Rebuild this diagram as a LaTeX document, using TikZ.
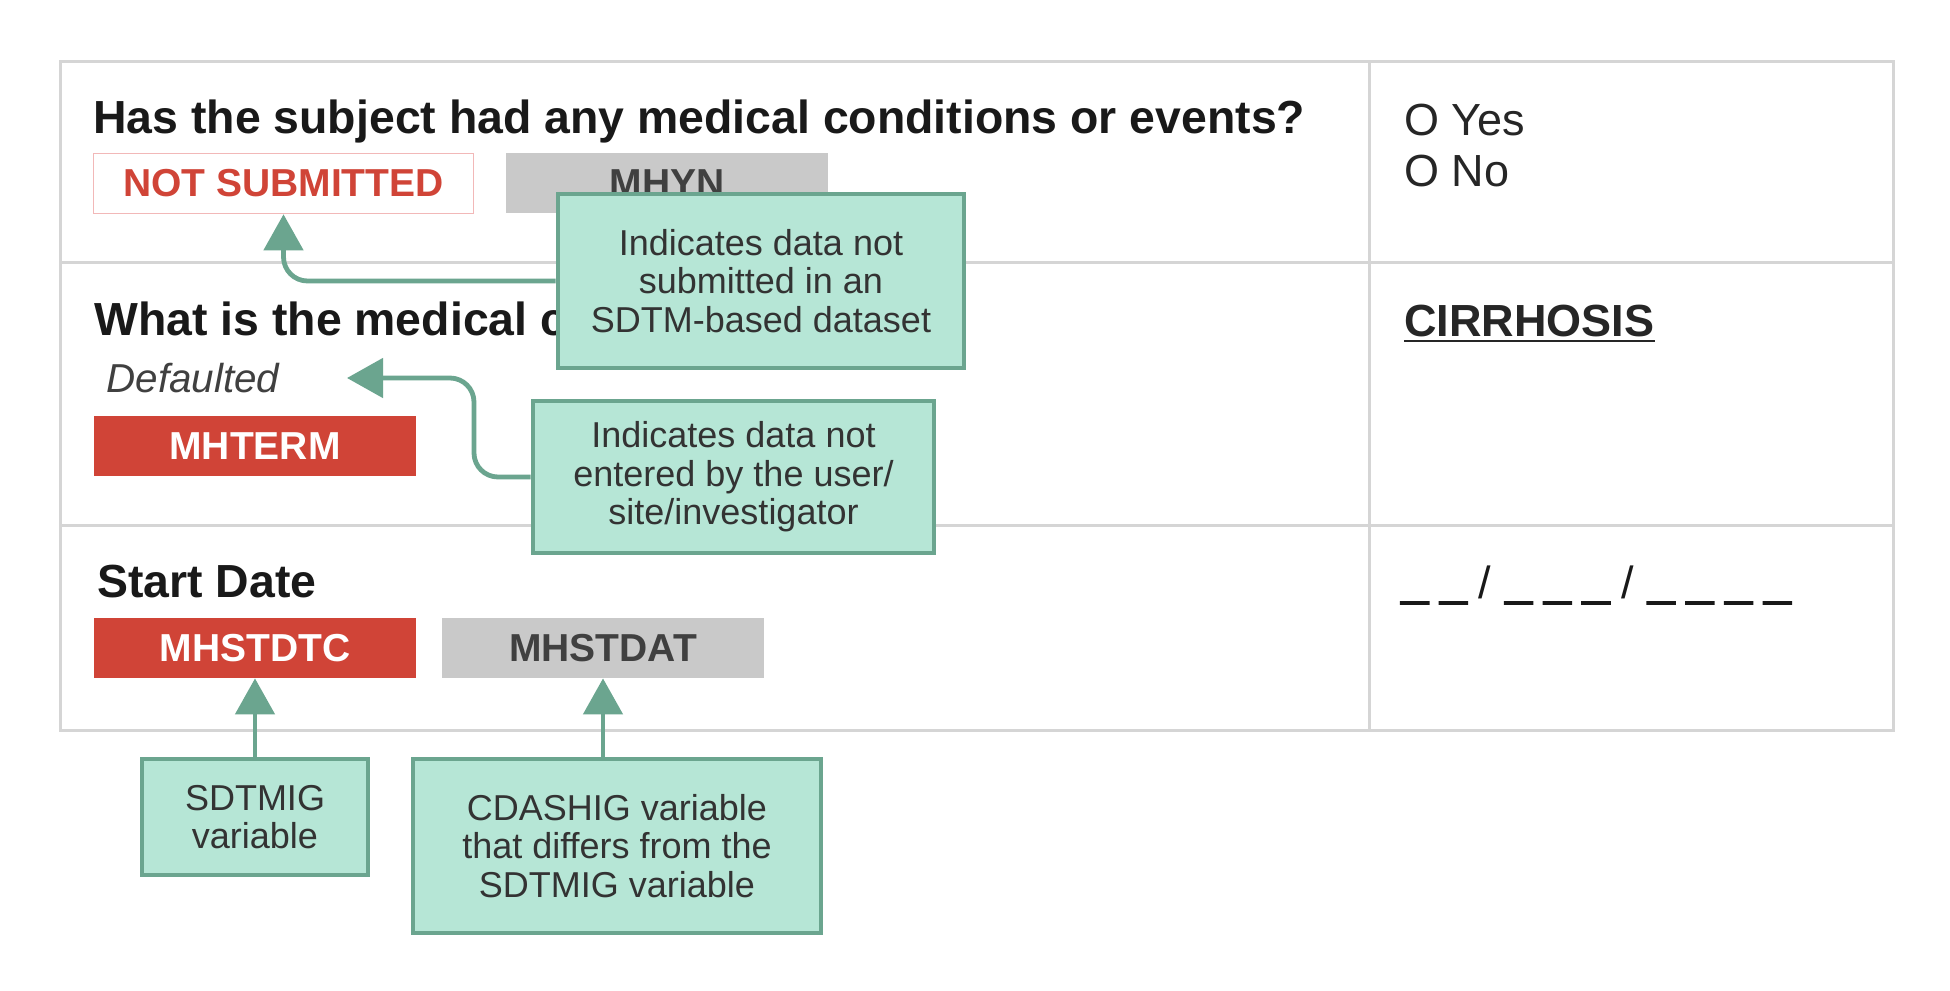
\documentclass[tikz,border=0pt]{standalone}
\usepackage{fontspec}
\setmainfont{Liberation Sans}
\newfontface\dashfont{Liberation Sans Bold}[FakeBold=4]
\usetikzlibrary{arrows.meta}
\definecolor{gridgray}{HTML}{D5D5D5}
\definecolor{sdtmred}{HTML}{D04437}
\definecolor{cdashgray}{HTML}{C9C9C9}
\definecolor{notsubpink}{HTML}{F2B8B8}
\definecolor{calloutfill}{HTML}{B6E6D6}
\definecolor{calloutline}{HTML}{6BA58F}
\newcommand{\blank}{{\dashfont\fontsize{24}{26}\selectfont\_}}

\begin{document}
\begin{tikzpicture}[x=0.5pt, y=-0.5pt,
  grid/.style={draw=gridgray, line width=1.5pt},
  question/.style={anchor=base west, inner sep=0pt, font=\bfseries\fontsize{23.2}{26}\selectfont, text=black!90},
  answer/.style={anchor=base west, inner sep=0pt, font=\fontsize{22.5}{26}\selectfont, text=black!85},
  tag/.style={minimum width=161pt, minimum height=30pt, inner sep=0pt, font=\bfseries\fontsize{19.5}{22}\selectfont},
  sdtmtag/.style={tag, fill=sdtmred, text=white},
  cdashtag/.style={tag, fill=cdashgray, text=black!75},
  notsubtag/.style={tag, minimum width=190pt, draw=notsubpink, line width=0.8pt, fill=white, text=sdtmred},
  callout/.style={draw=calloutline, fill=calloutfill, line width=2.4pt, inner sep=0pt, align=center, font=\fontsize{18}{19.3}\selectfont, text=black!80},
  callarrow/.style={draw=calloutline, line width=2.4pt, rounded corners=12pt, -{Triangle[width=19.5pt,length=18pt]}}]
\fill[white] (0,0) rectangle (1950,991);

\draw[grid] (60,61) rectangle (1893,730);
\draw[grid] (1369,61) -- (1369,730);
\draw[grid] (60,262) -- (1893,262);
\draw[grid] (60,525) -- (1893,525);

\node[question] (q1) at (93,133) {Has the subject had any medical conditions or events?};
\node[question] (q2) at (94,335) {What is the medical c};
\node[question] (q3) at (97,597) {Start Date};
\node[anchor=base west, inner sep=0pt, font=\itshape\fontsize{20.2}{24}\selectfont, text=black!75] (dflt) at (106,392) {Defaulted};

\node[notsubtag] (notsub) at (283.5,183.5) {NOT SUBMITTED};
\node[cdashtag] (mhyn) at (667,183) {MHYN};
\node[sdtmtag] (mhterm) at (255,446) {MHTERM};
\node[sdtmtag] (mhstdtc) at (255,648) {MHSTDTC};
\node[cdashtag] (mhstdat) at (603,648) {MHSTDAT};

\node[answer] (yes) at (1404,135) {O Yes};
\node[answer] (no) at (1404,186) {O No};
\node[answer, font=\bfseries\fontsize{22.5}{26}\selectfont] (cirr) at (1404,336) {CIRRHOSIS};
\draw[line width=1.2pt, black!85] ([yshift=-2.6pt]cirr.base west) -- ([yshift=-2.6pt]cirr.base east);
\node[answer, text=black!90] (date) at (1401,598) {\blank\hspace{6pt}\blank\hspace{6pt}/\hspace{7pt}\blank\hspace{6pt}\blank\hspace{6pt}\blank\hspace{6pt}/\hspace{7pt}\blank\hspace{6pt}\blank\hspace{6pt}\blank\hspace{6pt}\blank};

\node[callout, minimum width=203pt, minimum height=87pt] (c1) at (761,281) {Indicates data not\\submitted in an\\SDTM-based dataset};
\node[callout, minimum width=200.5pt, minimum height=76pt] (c2) at (733.5,477) {Indicates data not\\entered by the user/\\site/investigator};
\node[callout, minimum width=113pt, minimum height=58pt] (c3) at (255,817) {SDTMIG\\variable};
\node[callout, minimum width=204pt, minimum height=87pt] (c4) at (617,846) {CDASHIG variable\\that differs from the\\SDTMIG variable};

\coordinate (dfltbend) at (474,378);
\coordinate (dflttip) at (347,378);
\draw[callarrow] (c1.west) -| (notsub.south);
\draw[callarrow] (c2.west) -| (dfltbend) -- (dflttip);
\draw[callarrow] (c3.north) -- (mhstdtc.south);
\draw[callarrow] (mhstdat.south |- c4.north) -- (mhstdat.south);
\end{tikzpicture}
\end{document}
